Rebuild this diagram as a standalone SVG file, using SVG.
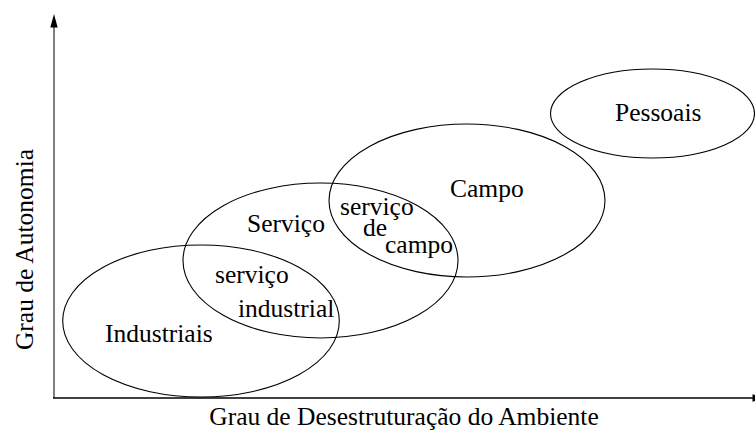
<svg xmlns="http://www.w3.org/2000/svg" width="755" height="430" viewBox="0 0 755 430">
<style>
.region{fill:none;stroke:#000;stroke-width:1.1}
.t{font-family:'Liberation Serif','Times New Roman','DejaVu Serif',serif;font-size:25.5px;fill:#000}
</style>
<rect width="755" height="430" fill="#fff"/>
<g id="axes">
<line x1="54" y1="398" x2="54" y2="26" stroke="#808080" stroke-width="2"/>
<polygon points="54,14 50.3,27.5 57.7,27.5" fill="#000"/>
<line x1="53" y1="398" x2="753" y2="398" stroke="#000" stroke-width="1.6"/>
<polygon points="766,398 752.5,394.3 752.5,401.7" fill="#000"/>
<text class="t" font-family="Liberation Serif, serif" x="404" y="425" text-anchor="middle">Grau de Desestruturação do Ambiente</text>
<text class="t" font-family="Liberation Serif, serif" transform="translate(32.5,249.5) rotate(-90)" text-anchor="middle">Grau de Autonomia</text>
</g>
<g id="industriais">
<ellipse class="region" cx="201" cy="321" rx="138.3" ry="76"/>
<text class="t" font-family="Liberation Serif, serif" x="105" y="342">Industriais</text>
</g>
<g id="servico">
<ellipse class="region" cx="320.5" cy="260.5" rx="137.5" ry="77.5"/>
<text class="t" font-family="Liberation Serif, serif" x="247" y="232">Serviço</text>
</g>
<g id="campo">
<ellipse class="region" cx="467" cy="200.5" rx="138" ry="76.5"/>
<text class="t" font-family="Liberation Serif, serif" x="450" y="197">Campo</text>
</g>
<g id="pessoais">
<ellipse class="region" cx="652.5" cy="113.5" rx="102" ry="44.5"/>
<text class="t" font-family="Liberation Serif, serif" x="615" y="121">Pessoais</text>
</g>
<g id="servico-industrial">
<text class="t" font-family="Liberation Serif, serif" x="215" y="283">serviço</text>
<text class="t" font-family="Liberation Serif, serif" x="238" y="317">industrial</text>
</g>
<g id="servico-de-campo">
<text class="t" font-family="Liberation Serif, serif" x="340" y="215">serviço</text>
<text class="t" font-family="Liberation Serif, serif" x="363" y="236">de</text>
<text class="t" font-family="Liberation Serif, serif" x="385" y="253">campo</text>
</g>
<g id="connectors"></g>
</svg>
